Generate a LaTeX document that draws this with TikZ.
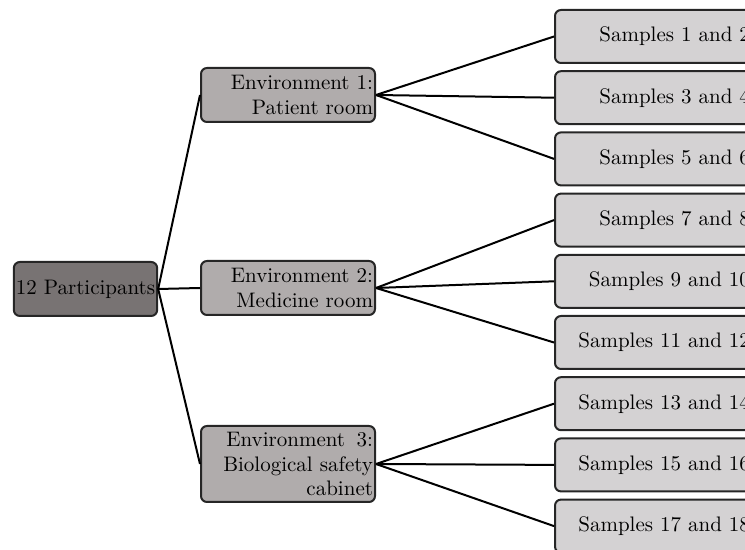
\documentclass[tikz,border=0pt]{standalone}
\usepackage{tikz}

\definecolor{rootgray}{HTML}{787373}
\definecolor{envgray}{HTML}{B0ACAC}
\definecolor{samplegray}{HTML}{D4D2D3}

\begin{document}
\begin{tikzpicture}[x=0.5pt, y=-0.5pt,
	main node/.style={draw=black!85, line width=1pt, rounded corners=3pt,
		font=\fontsize{10.5}{12.4}\selectfont, inner sep=1pt},
	root node/.style={main node, fill=rootgray, minimum width=71.5pt, minimum height=27pt},
	env node/.style={main node, fill=envgray, text width=85pt, align=right, minimum height=27pt},
	sample node/.style={main node, fill=samplegray, anchor=west, text width=95pt,
		inner xsep=2.5pt, align=right, minimum height=26.5pt}]
	
	\useasboundingbox (0,0) rectangle (745,550);
	\clip (0,0) rectangle (745,550);
	
	\node[root node] (r) at (85.5,289) {12 Participants};
	
	\node[env node] (e1) at (288,95) {Environment 1:\\Patient room};
	\node[env node] (e2) at (288,288) {Environment 2:\\Medicine room};
	\node[env node, minimum height=38pt] (e3) at (288,464) {Environment\hspace{0.55em}3:\\Biological safety\\cabinet};
	
	\node[sample node] (s1) at (554,36.5) {Samples 1 and 2};
	\node[sample node] (s2) at (554,97.7) {Samples 3 and 4};
	\node[sample node] (s3) at (554,158.9) {Samples 5 and 6};
	\node[sample node] (s4) at (554,220.1) {Samples 7 and 8};
	\node[sample node] (s5) at (554,281.3) {Samples 9 and 10};
	\node[sample node] (s6) at (554,342.5) {Samples 11 and 12};
	\node[sample node] (s7) at (554,403.7) {Samples 13 and 14};
	\node[sample node] (s8) at (554,464.9) {Samples 15 and 16};
	\node[sample node] (s9) at (554,526.1) {Samples 17 and 18};
	
	\path[line width=1pt]
	(r.east) edge (e1.west)
	(r.east) edge (e2.west)
	(r.east) edge (e3.west)
	(e1.east) edge (s1.west)
	(e1.east) edge (s2.west)
	(e1.east) edge (s3.west)
	(e2.east) edge (s4.west)
	(e2.east) edge (s5.west)
	(e2.east) edge (s6.west)
	(e3.east) edge (s7.west)
	(e3.east) edge (s8.west)
	(e3.east) edge (s9.west);
\end{tikzpicture}
\end{document}
